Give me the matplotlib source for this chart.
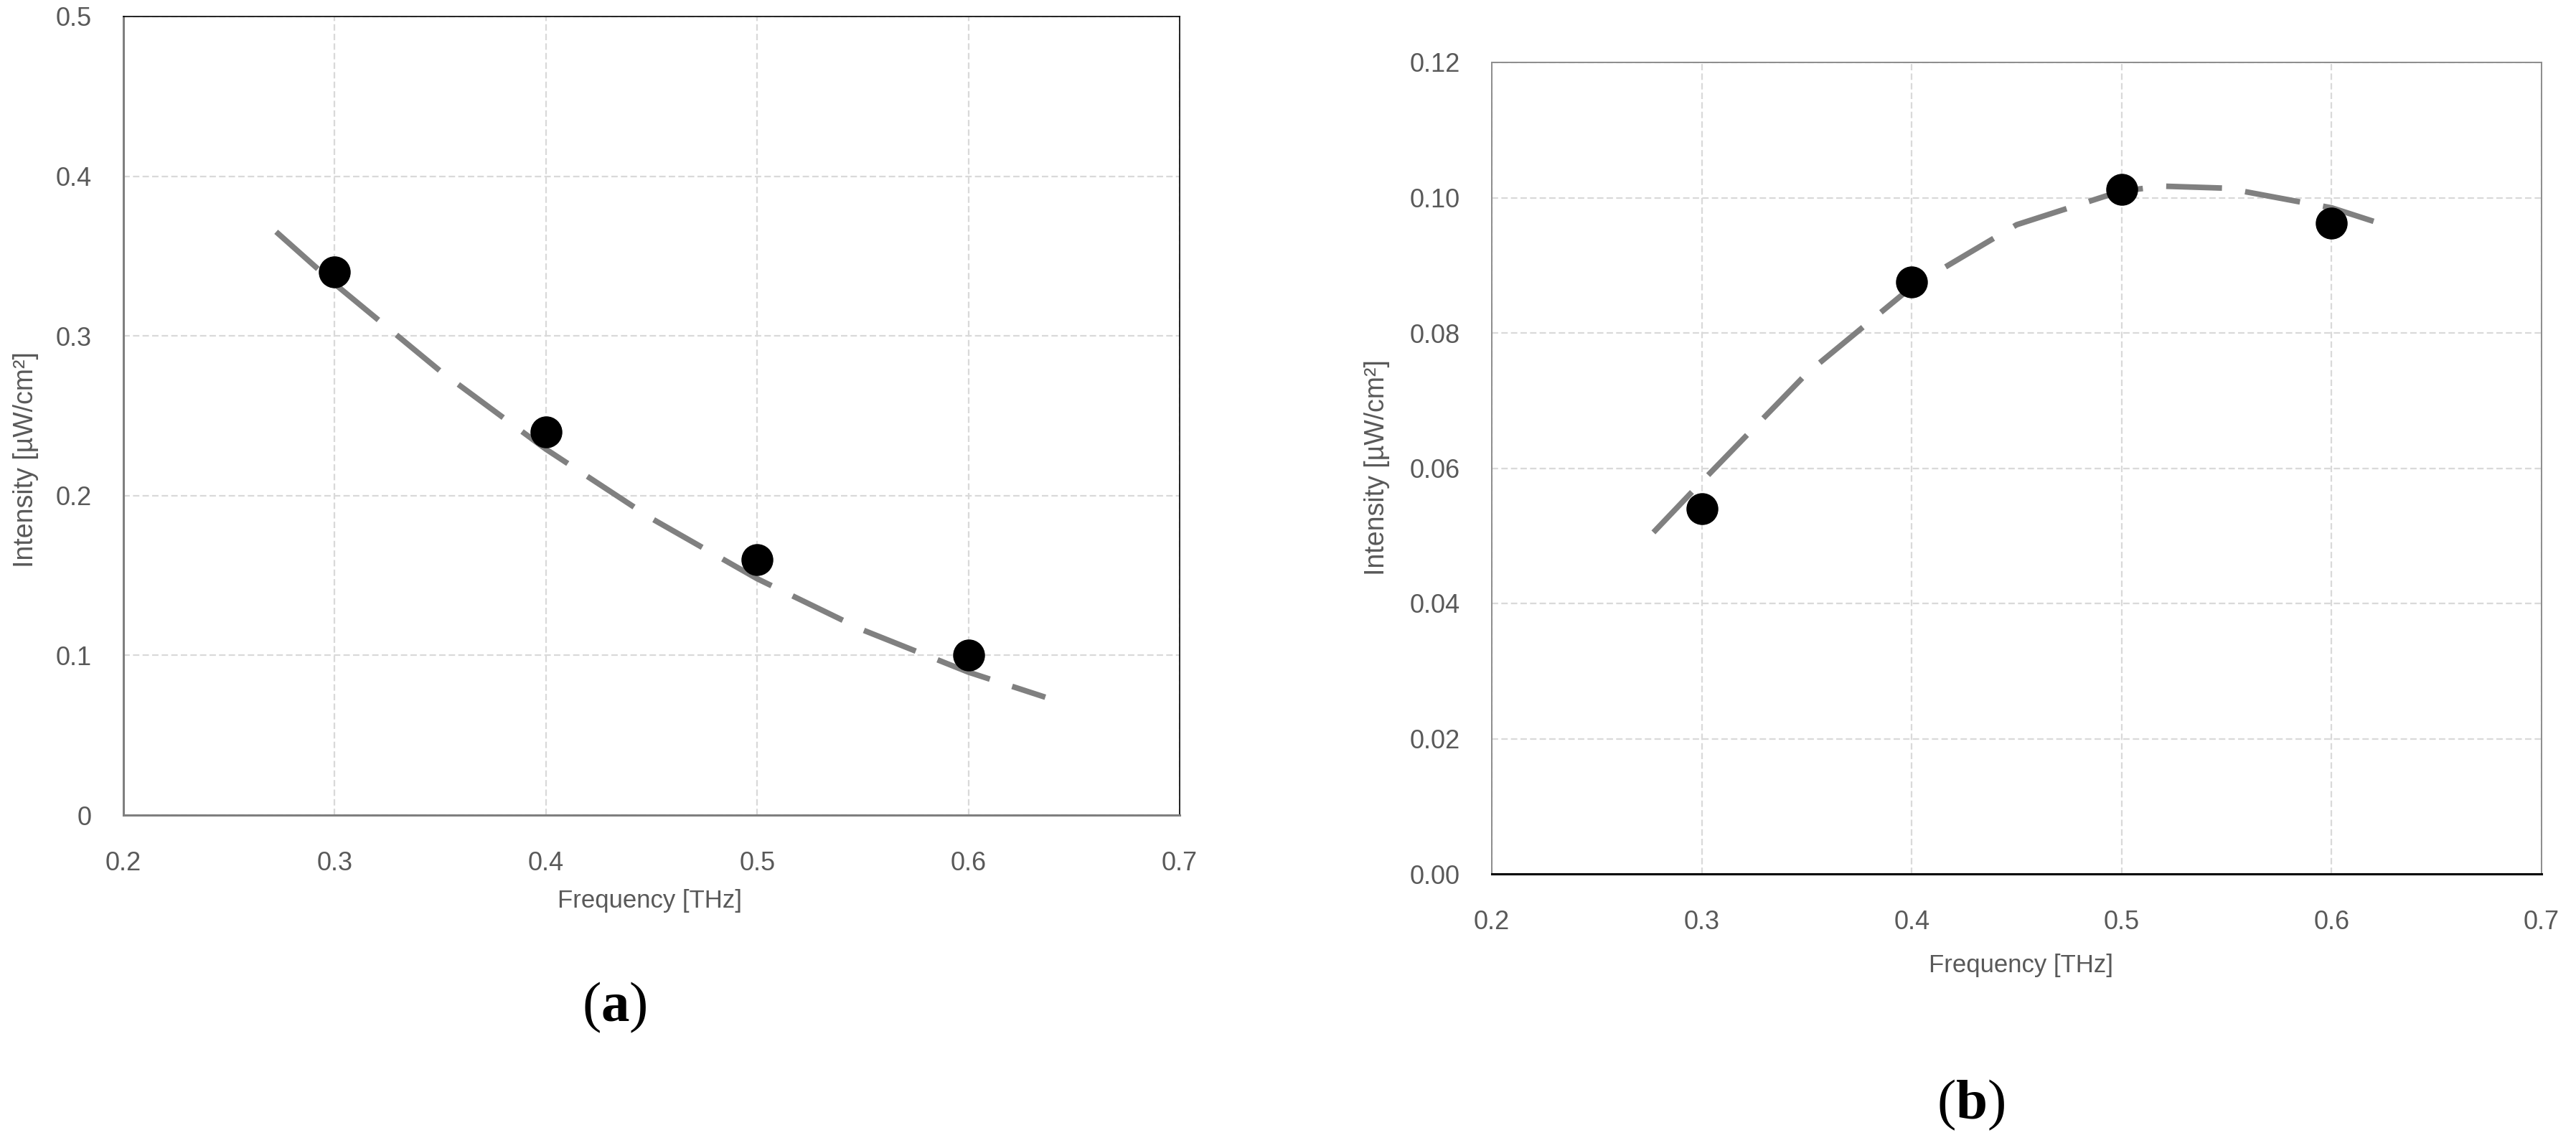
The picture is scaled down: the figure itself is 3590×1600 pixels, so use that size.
import matplotlib
matplotlib.use("Agg")
import matplotlib.pyplot as plt
import numpy as np

plt.rcParams['font.family'] = ['Liberation Sans', 'DejaVu Sans']
plt.rcParams['mathtext.fontset'] = 'custom'
plt.rcParams['mathtext.rm'] = 'Liberation Serif'
plt.rcParams['mathtext.bf'] = 'Liberation Serif:bold'

# ---- data ----
freq = [0.3, 0.4, 0.5, 0.6]
intensity_a = [0.34, 0.24, 0.16, 0.10]
intensity_b = [0.054, 0.0875, 0.1012, 0.0962]

# trendlines
trend_a_x = [0.2723, 0.30, 0.35, 0.40, 0.45, 0.50, 0.55, 0.60, 0.6364]
trend_a_y = [0.3652, 0.3326, 0.2780, 0.2291, 0.1857, 0.1480, 0.1159, 0.0895, 0.0738]
trend_b_x = [0.277, 0.30, 0.35, 0.40, 0.45, 0.50, 0.52, 0.55, 0.60, 0.62]
trend_b_y = [0.0505, 0.0580, 0.0740, 0.0868, 0.0960, 0.1010, 0.1017, 0.1014, 0.0985, 0.0965]

xticks = [0.2, 0.3, 0.4, 0.5, 0.6, 0.7]
xticklabels = ['0.2', '0.3', '0.4', '0.5', '0.6', '0.7']
yticks_a = [0, 0.1, 0.2, 0.3, 0.4, 0.5]
yticklabels_a = ['0', '0.1', '0.2', '0.3', '0.4', '0.5']
yticks_b = [0, 0.02, 0.04, 0.06, 0.08, 0.10, 0.12]
yticklabels_b = ['0.00', '0.02', '0.04', '0.06', '0.08', '0.10', '0.12']

xlabel = 'Frequency [THz]'
ylabel = 'Intensity [µW/cm²]'

W, H = 3590, 1600
fig = plt.figure(figsize=(W / 100, H / 100), dpi=100)

ax_a = fig.add_axes([172 / W, 1 - 1136 / H, (1644 - 172) / W, (1136 - 23) / H])
ax_b = fig.add_axes([2079 / W, 1 - 1218 / H, (3542 - 2079) / W, (1218 - 87) / H])

TICK_COLOR = '#595959'
GRID_COLOR = '#d9d9d9'


def style(ax, yt, ytl, ylim):
    ax.set_xlim(0.2, 0.7)
    ax.set_ylim(*ylim)
    ax.set_xticks(xticks)
    ax.set_xticklabels(xticklabels)
    ax.set_yticks(yt)
    ax.set_yticklabels(ytl)
    ax.tick_params(axis='both', length=0, labelsize=26, colors=TICK_COLOR)
    ax.tick_params(axis='x', pad=36)
    ax.tick_params(axis='y', pad=32)
    ax.grid(True, color=GRID_COLOR, linewidth=1.6, linestyle=(0, (4, 2)))
    ax.set_axisbelow(True)


style(ax_a, yticks_a, yticklabels_a, (0, 0.5))
style(ax_b, yticks_b, yticklabels_b, (0, 0.12))

# spines
for s in ['top', 'right']:
    ax_a.spines[s].set_color('#000000')
    ax_a.spines[s].set_linewidth(1.2)
for s in ['left', 'bottom']:
    ax_a.spines[s].set_color('#7f7f7f')
    ax_a.spines[s].set_linewidth(2.2)
for s in ['top', 'right', 'left']:
    ax_b.spines[s].set_color('#8c8c8c')
    ax_b.spines[s].set_linewidth(1.4)
ax_b.spines['bottom'].set_color('#000000')
ax_b.spines['bottom'].set_linewidth(2.2)

dash = (0, (10, 4.2))
for ax, tx, ty, y in [(ax_a, trend_a_x, trend_a_y, intensity_a),
                      (ax_b, trend_b_x, trend_b_y, intensity_b)]:
    ax.plot(tx, ty, color='#808080', linewidth=5.6, linestyle=dash,
            solid_capstyle='butt', dash_capstyle='butt', zorder=2)
    ax.plot(freq, y, 'o', color='black', markersize=31, zorder=3)

# axis labels
lab_color = '#595959'
fig.text(906 / W, 1 - 1255 / H, xlabel, ha='center', va='center', fontsize=25, color=lab_color)
fig.text(2816 / W, 1 - 1346 / H, xlabel, ha='center', va='center', fontsize=25, color=lab_color)
fig.text(36 / W, 1 - 641 / H, ylabel, ha='center', va='center', rotation=90, fontsize=27, color=lab_color)
fig.text(1919 / W, 1 - 652 / H, ylabel, ha='center', va='center', rotation=90, fontsize=27, color=lab_color)

# panel labels
fig.text(856 / W, 1 - 1404 / H, r'($\mathbf{a}$)', ha='center', va='center', fontsize=57,
         family='Liberation Serif', color='black')
fig.text(2747 / W, 1 - 1540 / H, r'($\mathbf{b}$)', ha='center', va='center', fontsize=57,
         family='Liberation Serif', color='black')

fig.savefig('out.png', dpi=100, facecolor='white')
